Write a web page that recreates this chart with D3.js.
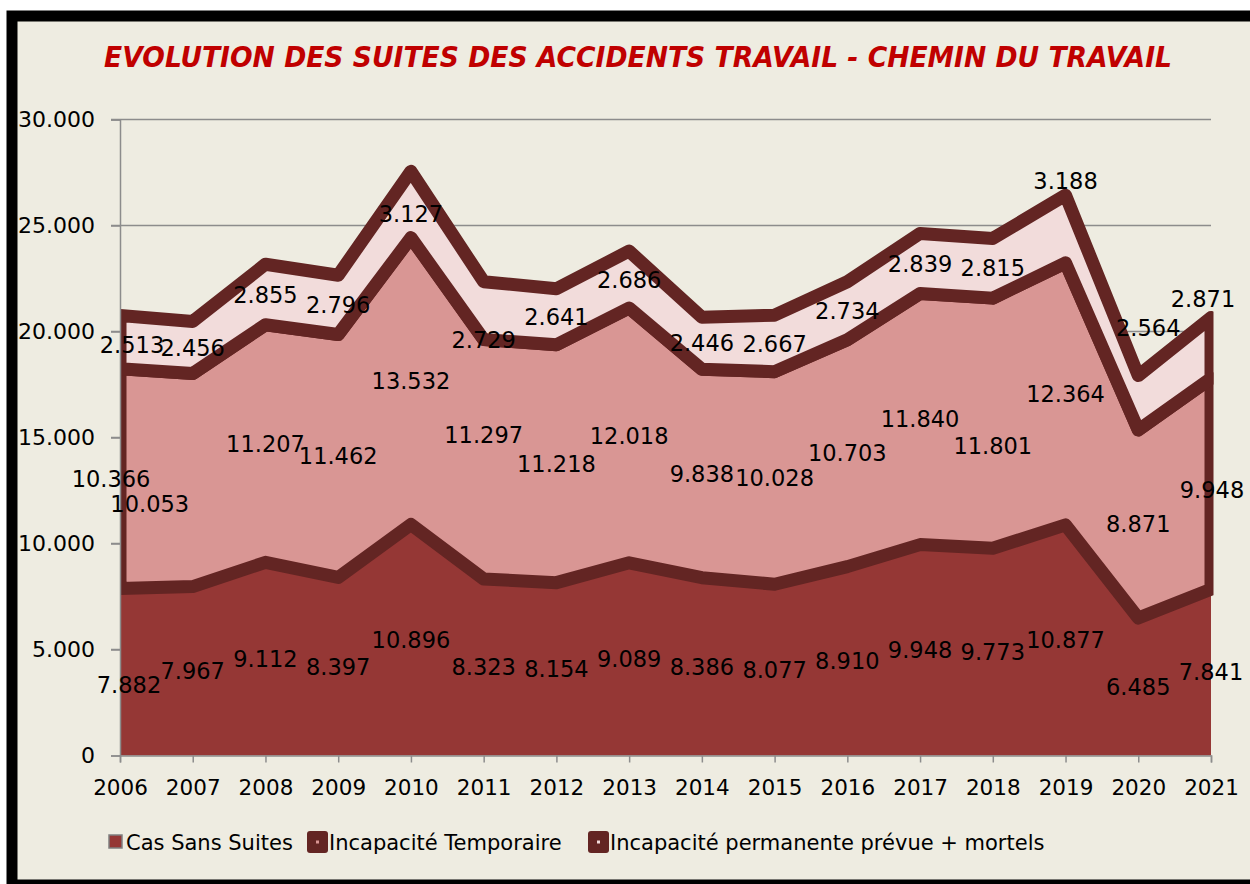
<!DOCTYPE html>
<html>
<head>
<meta charset="utf-8">
<script src="https://cdn.jsdelivr.net/npm/d3@7"></script>
<style>
  html, body { margin: 0; padding: 0; background: #fff; }
  svg { display: block; font-family: "DejaVu Sans", Verdana, sans-serif; }
</style>
</head>
<body>
<svg id="chart" width="1250" height="884"></svg>
<script>
const years = [2006, 2007, 2008, 2009, 2010, 2011, 2012, 2013, 2014, 2015, 2016, 2017, 2018, 2019, 2020, 2021]
const casSansSuites = [7882, 7967, 9112, 8397, 10896, 8323, 8154, 9089, 8386, 8077, 8910, 9948, 9773, 10877, 6485, 7841]
const incapTemporaire = [10366, 10053, 11207, 11462, 13532, 11297, 11218, 12018, 9838, 10028, 10703, 11840, 11801, 12364, 8871, 9948]
const incapPermanente = [2513, 2456, 2855, 2796, 3127, 2729, 2641, 2686, 2446, 2667, 2734, 2839, 2815, 3188, 2564, 2871]
const seriesNames = ['Cas Sans Suites', 'Incapacité Temporaire', 'Incapacité permanente prévue + mortels']
const yTicks = [0, 5000, 10000, 15000, 20000, 25000, 30000]

const fills = ['#953735', '#d99694', '#f2dcdb']
const edge = '#632523'

// excel moved a few labels away from the middle of their band
const labelNudge = {
  '0-0': [9, 13], '1-0': [-9, 0], '1-1': [-43, 24], '1-5': [0, -24], '1-12': [0, 23], '1-15': [1, 6],
  '2-0': [12, 3], '2-4': [0, 9], '2-5': [0, 29], '2-13': [0, -48], '2-14': [10, -75], '2-15': [-8, -49]
}

const rows = years.map((y, i) => ({ year: y, s0: casSansSuites[i], s1: incapTemporaire[i], s2: incapPermanente[i] }))
const stacked = d3.stack().keys(['s0', 's1', 's2'])(rows)

const fr = d3.formatLocale({ decimal: ',', thousands: '.', grouping: [3], currency: ['', '€'] })
const fmt = fr.format(',d')

const svg = d3.select('#chart')

// frame
svg.append('rect')
  .attr('x', 12).attr('y', 16)
  .attr('width', 1260).attr('height', 869)
  .attr('fill', '#eeece1')
  .attr('stroke', '#000').attr('stroke-width', 11)

svg.append('text')
  .attr('x', 638).attr('y', 67)
  .attr('text-anchor', 'middle')
  .attr('fill', '#c00000')
  .attr('font-size', 28).attr('font-weight', 'bold').attr('font-style', 'italic')
  .attr('textLength', 1068).attr('lengthAdjust', 'spacingAndGlyphs')
  .text('EVOLUTION DES SUITES DES ACCIDENTS TRAVAIL - CHEMIN DU TRAVAIL')

const x = d3.scaleLinear().domain([2006, 2021]).range([120, 1211])
const y = d3.scaleLinear().domain([0, 30000]).range([755.5, 119.5])

// gridlines
svg.append('g')
  .selectAll('line')
  .data(yTicks.filter(d => d > 0))
  .enter()
  .append('line')
  .attr('x1', 111).attr('x2', 1211)
  .attr('y1', d => y(d)).attr('y2', d => y(d))
  .attr('stroke', '#8c8c8c').attr('stroke-width', 1.5)

svg.append('defs').append('clipPath').attr('id', 'plotclip')
  .append('rect').attr('x', 120).attr('y', 100).attr('width', 1093.5).attr('height', 656)

const area = d3.area()
  .x(d => x(d.data.year))
  .y0(d => y(d[0]))
  .y1(d => y(d[1]))

const layers = svg.append('g').attr('clip-path', 'url(#plotclip)')
stacked.forEach((s, i) => {
  layers.append('path')
    .datum(s)
    .attr('d', area)
    .attr('fill', fills[i])
    .attr('stroke', i === 0 ? 'none' : edge)
    .attr('stroke-width', 13)
    .attr('stroke-linejoin', 'round')
})

// axes
const yAxis = d3.axisLeft(y).tickValues(yTicks).tickFormat(fmt).tickSize(9).tickPadding(16)
const yg = svg.append('g').attr('transform', 'translate(120,0)').call(yAxis)
const xAxis = d3.axisBottom(x).tickValues(years).tickFormat(d3.format('d')).tickSize(7).tickPadding(17)
const xg = svg.append('g').attr('transform', 'translate(0,755.5)').call(xAxis)

;[yg, xg].forEach(g => {
  g.select('.domain').attr('stroke', '#8c8c8c').attr('stroke-width', 1.5)
  g.selectAll('.tick line').attr('stroke', '#8c8c8c').attr('stroke-width', 1.5)
  g.selectAll('.tick text').attr('fill', '#000').attr('font-family', '"DejaVu Sans", sans-serif')
})
yg.selectAll('.tick text').attr('font-size', 22)
xg.selectAll('.tick text').attr('font-size', 21.5)

// data labels
const labels = svg.append('g')
stacked.forEach((s, i) => {
  labels.selectAll('.lab' + i)
    .data(s)
    .enter()
    .append('text')
    .attr('class', 'lab' + i)
    .attr('x', (d, j) => x(d.data.year) + (labelNudge[i + '-' + j] || [0, 0])[0])
    .attr('y', (d, j) => y((d[0] + d[1]) / 2) + (labelNudge[i + '-' + j] || [0, 0])[1])
    .attr('dy', '0.36em')
    .attr('text-anchor', 'middle')
    .attr('font-size', 22.5)
    .attr('fill', '#000')
    .text(d => fmt(d[1] - d[0]))
})

// legend
const legendX = [108, 307, 588]
const legend = svg.append('g')
seriesNames.forEach((name, i) => {
  const g = legend.append('g').attr('transform', `translate(${legendX[i]},842)`)
  if (i === 0) {
    g.append('rect').attr('x', 1).attr('y', -7).attr('width', 13).attr('height', 13)
      .attr('fill', fills[0]).attr('stroke', '#7f7f7f').attr('stroke-width', 1.5)
  } else {
    g.append('rect').attr('x', 0).attr('y', -11).attr('width', 21).attr('height', 22).attr('rx', 3)
      .attr('fill', edge)
    g.append('rect').attr('x', 9).attr('y', -1.5).attr('width', 3).attr('height', 3)
      .attr('fill', fills[i])
  }
  g.append('text')
    .attr('x', i === 0 ? 18 : 22)
    .attr('y', 0).attr('dy', '0.36em')
    .attr('font-size', 21)
    .attr('fill', '#000')
    .text(name)
})
</script>
</body>
</html>
